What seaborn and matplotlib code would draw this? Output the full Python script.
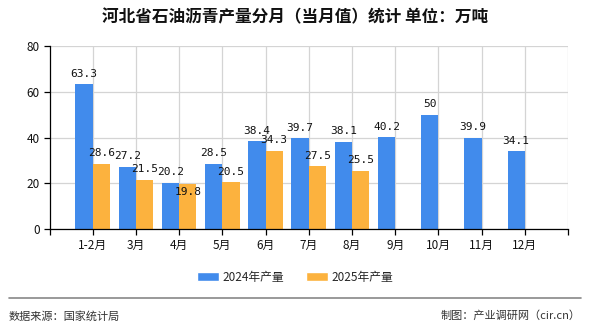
import matplotlib
matplotlib.use("Agg")
import matplotlib.pyplot as plt
import seaborn as sns
import pandas as pd
import numpy as np
from matplotlib.lines import Line2D
from matplotlib.patches import Patch

months = ["1-2月", "3月", "4月", "5月", "6月", "7月", "8月", "9月", "10月", "11月", "12月"]
v2024 = [63.3, 27.2, 20.2, 28.5, 38.4, 39.7, 38.1, 40.2, 50, 39.9, 34.1]
v2025 = [28.6, 21.5, 19.8, 20.5, 34.3, 27.5, 25.5, np.nan, np.nan, np.nan, np.nan]
series = ["2024年产量", "2025年产量"]
colors = ["#418BEC", "#FCB23E"]
title = "河北省石油沥青产量分月（当月值）统计 单位：万吨"
yticks = [0, 20, 40, 60, 80]

sns.set_theme(style="white")
plt.rcParams["font.family"] = ["Noto Sans CJK SC", "DejaVu Sans"]

df = pd.DataFrame({
    "month": months * 2,
    "value": v2024 + v2025,
    "series": [series[0]] * len(months) + [series[1]] * len(months),
}).dropna()

fig = plt.figure(figsize=(5.9, 3.3), dpi=100)
ax = fig.add_axes([49.5 / 590, 1 - 229.3 / 330, (568 - 49.5) / 590, (229.3 - 46) / 330])

sns.barplot(data=df, x="month", y="value", hue="series", order=months,
            hue_order=series, palette=colors, width=0.8, saturation=1,
            ax=ax, legend=False, errorbar=None, linewidth=0, edgecolor="none")

for ci, cont in enumerate(ax.containers):
    texts = ax.bar_label(cont, fmt="{:g}", padding=4, fontsize=8,
                         family="DejaVu Sans Mono", color="#111111")
    if ci == 1:
        # labels that would collide with the neighbouring 2024 label go inside the bar
        vals = [v for v in v2025 if not np.isnan(v)]
        for t, v, o in zip(texts, vals, v2024):
            if abs(o - v) < 1.5:
                t.set_va("top")
                t.xyann = (0, -2)

n = len(months)
ax.set_xlim(-1, n)
ax.set_ylim(0, 80)
ax.set_yticks(yticks)
ax.set_xlabel("")
ax.set_ylabel("")
ax.grid(True, axis="both", color="#d4d4d4", linewidth=0.9)
ax.set_axisbelow(True)
for s in ["top", "right"]:
    ax.spines[s].set_visible(False)
ax.spines["left"].set_color("black")
ax.spines["bottom"].set_color("black")
ax.spines["left"].set_linewidth(0.9)
ax.spines["bottom"].set_linewidth(0.9)
ax.axvline(n, color="#d4d4d4", linewidth=0.9, zorder=0)
ax.tick_params(axis="both", length=4, width=0.9, color="black", labelsize=8.5,
               labelcolor="#111111", pad=3, bottom=True, left=True)
ax.set_xticks([-1, n], minor=True)
ax.tick_params(axis="x", which="minor", length=4, width=0.9, color="black", bottom=True)

fig.text(0.5, 1 - 17 / 330, title, ha="center", va="center", fontsize=12,
         color="#111111", weight="semibold")

handles = [Patch(facecolor=c, label=s) for c, s in zip(colors, series)]
fig.legend(handles=handles, loc="center", bbox_to_anchor=(0.5, 1 - 277 / 330),
           ncol=2, frameon=False, fontsize=8.5, handlelength=1.9, handleheight=0.8,
           handletextpad=0.3, columnspacing=1.8)

fig.add_artist(Line2D([9 / 590, 581 / 590], [1 - 298 / 330] * 2,
                      transform=fig.transFigure, color="#888888", linewidth=1.2))
fig.text(9 / 590, 1 - 316 / 330, "数据来源：国家统计局", ha="left", va="center",
         fontsize=8, color="#333333")
fig.text(581 / 590, 1 - 316 / 330, "制图：产业调研网（cir.cn）", ha="right", va="center",
         fontsize=8, color="#333333")

fig.savefig("out.png", dpi=100)
